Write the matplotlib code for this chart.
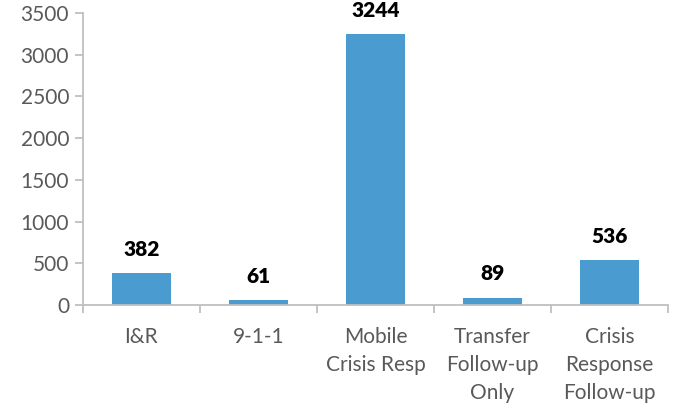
import matplotlib
matplotlib.use("Agg")
import matplotlib.pyplot as plt
from matplotlib.ticker import FixedLocator

# data
categories = ["I&R", "9-1-1", "Mobile\nCrisis Resp", "Transfer\nFollow-up\nOnly", "Crisis\nResponse\nFollow-up"]
counts = [382, 61, 3244, 89, 536]

plt.rcParams['font.family'] = ['Lato', 'DejaVu Sans']

fig = plt.figure(figsize=(6.74, 4.13), dpi=100)
ax = fig.add_axes([0.123, 0.2615, 0.868, 0.707])

x = range(len(categories))
bars = ax.bar(x, counts, width=0.5, color='#4A9BCF')

for b, v in zip(bars, counts):
    ax.text(b.get_x() + b.get_width() / 2, v + 170, str(v), ha='center', va='bottom',
            fontsize=15, fontweight='heavy', color='black')

ax.set_xlim(-0.5, len(categories) - 0.5)
ax.set_ylim(0, 3500)
ax.set_yticks(range(0, 3501, 500))
ax.set_xticks(list(x))
ax.set_xticklabels(categories, linespacing=1.5)
ax.xaxis.set_minor_locator(FixedLocator([i - 0.5 for i in range(len(categories) + 1)]))
ax.tick_params(axis='x', which='major', length=0, pad=16)
ax.tick_params(axis='x', which='minor', length=6, color='#BFBFBF', width=1.3)
ax.tick_params(axis='y', length=6, color='#BFBFBF', width=1.3, pad=4)
ax.tick_params(labelsize=15, labelcolor='#595959')

for s in ['top', 'right']:
    ax.spines[s].set_visible(False)
for s in ['left', 'bottom']:
    ax.spines[s].set_color('#BFBFBF')
    ax.spines[s].set_linewidth(1.3)

fig.savefig("out.png", dpi=100)
